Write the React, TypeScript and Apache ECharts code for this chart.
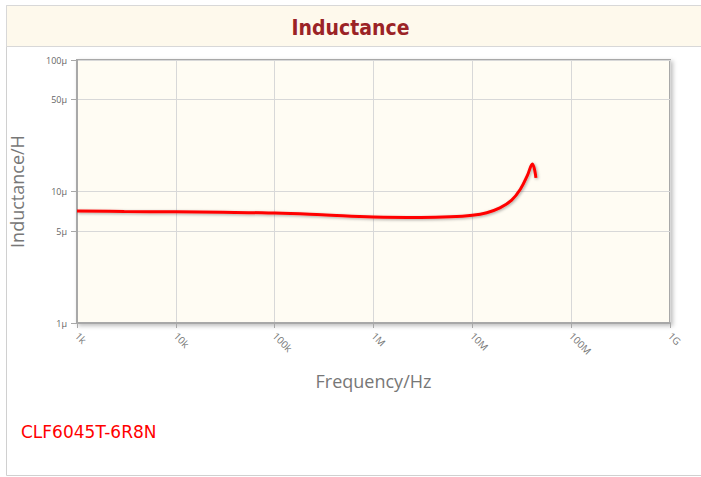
import React, { useEffect, useRef } from "react";
import * as echarts from "echarts";

const freqHz = [1e3, 3e3, 1e4, 3e4, 1e5, 3e5, 1e6, 3e6, 6e6, 1e7, 1.4e7, 1.9e7, 2.5e7, 3.06e7, 3.6e7, 4.05e7, 4.4e7];
const inductanceUH = [7.1, 7.05, 7.0, 6.95, 6.85, 6.65, 6.4, 6.35, 6.42, 6.6, 6.9, 7.5, 8.6, 10.4, 13.2, 16.2, 12.7];
const yTicks = [1, 5, 10, 50, 100];
const partName = "CLF6045T-6R8N";

function fmtFreq(v: number): string {
  if (v >= 1e9) return Math.round(v / 1e9) + "G";
  if (v >= 1e6) return Math.round(v / 1e6) + "M";
  if (v >= 1e3) return Math.round(v / 1e3) + "k";
  return String(v);
}

export default function App() {
  const ref = useRef<HTMLDivElement>(null);
  useEffect(() => {
    if (!ref.current) return;
    const chart = echarts.init(ref.current, null, { renderer: "svg" });
    const font = "'Open Sans', 'DejaVu Sans', sans-serif";
    chart.setOption({
      animation: false,
      backgroundColor: "#ffffff",
      graphic: [
        { type: "rect", shape: { x: 6.5, y: 5.5, width: 710, height: 470 }, style: { fill: "#fff", stroke: "#d0d0d0", lineWidth: 1 }, z: -10 },
        { type: "rect", shape: { x: 6.5, y: 5.5, width: 710, height: 41 }, style: { fill: "#fef9ec", stroke: "#d8d8d8", lineWidth: 1 }, z: -9 },
        { type: "text", x: 21, y: 423, style: { text: partName, fill: "#ff0000", font: "17px 'DejaVu Sans', sans-serif" } },
      ],
      title: {
        text: "Inductance",
        left: "center",
        top: 12,
        textStyle: { color: "#9b2326", fontSize: 21, fontWeight: "bold", fontFamily: "'DejaVu Sans Condensed', 'DejaVu Sans', sans-serif" },
      },
      grid: {
        left: 75, top: 60, right: 31, bottom: 154,
        show: true,
        backgroundColor: "#fffcf3",
        borderColor: "#a8a8a8",
        borderWidth: 2,
        shadowColor: "rgba(0,0,0,0.25)",
        shadowBlur: 4,
        shadowOffsetX: 2,
        shadowOffsetY: 2,
      },
      xAxis: {
        type: "log",
        logBase: 10,
        min: 1e3,
        max: 1e9,
        name: "Frequency/Hz",
        nameLocation: "middle",
        nameGap: 49,
        nameTextStyle: { color: "#777", fontSize: 18, fontFamily: font },
        axisLine: { show: true, lineStyle: { color: "#a8a8a8", width: 2 } },
        axisTick: { show: true, length: 5, lineStyle: { color: "#a8a8a8" } },
        axisLabel: { color: "#777", fontSize: 10, fontFamily: font, rotate: -45, margin: 11, formatter: (v: number) => fmtFreq(v) },
        splitLine: { show: true, lineStyle: { color: "#d8d8d8", width: 1 } },
      },
      yAxis: {
        type: "log",
        logBase: 10,
        min: 1,
        max: 100,
        name: "Inductance/H",
        nameLocation: "middle",
        nameGap: 51,
        nameTextStyle: { color: "#777", fontSize: 18, fontFamily: font },
        axisLine: { show: true, lineStyle: { color: "#a8a8a8", width: 2 } },
        axisTick: { show: true, length: 6, lineStyle: { color: "#a8a8a8" }, customValues: yTicks },
        axisLabel: { color: "#666", fontSize: 9, fontFamily: font, margin: 10, customValues: yTicks, formatter: (v: number) => v + "µ" },
        splitLine: { show: true, lineStyle: { color: "#d8d8d8", width: 1 } },
      },
      series: [
        {
          type: "line",
          data: freqHz.map((f, i) => [f, inductanceUH[i]]),
          smooth: 0.4,
          showSymbol: false,
          lineStyle: { color: "#ff0000", width: 3, shadowColor: "rgba(0,0,0,0.35)", shadowBlur: 3, shadowOffsetX: 1, shadowOffsetY: 1 },
        },
      ],
    });
    return () => chart.dispose();
  }, []);
  return <div ref={ref} style={{ position: "absolute", left: 0, top: 0, width: 701, height: 477 }} />;
}
